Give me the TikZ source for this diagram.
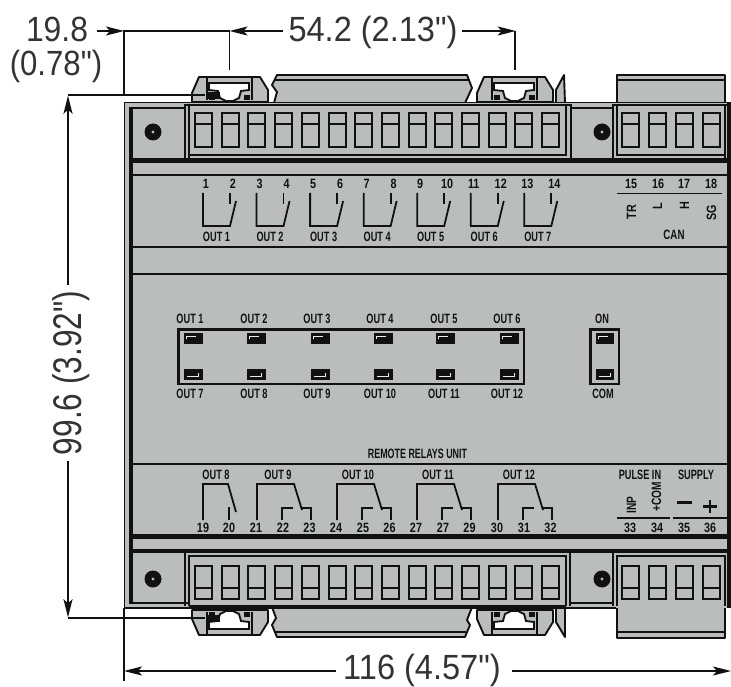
\documentclass[tikz,border=0pt]{standalone}
\usepackage{fontspec}
\setmainfont{Liberation Sans}
\newfontfamily\dimfont{Liberation Sans}
\usetikzlibrary{arrows.meta}
\definecolor{panel}{HTML}{BBBDBD}
\definecolor{ink}{HTML}{111111}
\newcommand{\nar}[2]{\scalebox{#1}[1]{#2}}
\tikzset{
  dimline/.style={draw=ink,line width=1.9pt},
  dimarrow/.style={dimline,-{Stealth[length=18pt,width=9pt,inset=4pt]}},
  dimtext/.style={anchor=base,inner sep=0pt,text=black!80,font=\dimfont\fontsize{35}{35}\selectfont},
  lbl/.style={anchor=base,inner sep=0pt,text=ink,font=\bfseries\fontsize{13.5}{14}\selectfont},
  wire/.style={draw=ink,line width=1.8pt},
  heavy/.style={fill=ink,draw=none},
  cellbox/.style={draw=ink,line width=2pt,fill=panel},
  grey/.style={fill=panel,draw=ink,line width=1.9pt,line join=round},
}
% terminal cell
\newcommand{\tcell}[4]{\draw[cellbox] (#1,#2) rectangle (#1+17,#3); \draw[draw=ink,line width=1.7pt] (#1,#4) -- (#1+17,#4);}
% DIN clip
\newcommand{\dinclip}{%
  \path[grey] (0,25) -- (0,16) -- (7,0) -- (68,0) -- (76,13) -- (76,25) -- cycle;
  \path[draw=ink,line width=2pt] (15,1) -- (15,23);
  \path[draw=ink,line width=2pt] (60,1) -- (60,23);
  \path[fill=white,draw=ink,line width=1.8pt] (17,6) -- (57,6) -- (57,13) -- (49,14) -- (47,21) -- (41,24) -- (34,24) -- (28,21) -- (26,14) -- (17,13) -- cycle;
  \path[heavy] (17,18) rectangle (23,23);
  \path[heavy] (52,18) rectangle (58,23);
}
\begin{document}
\begin{tikzpicture}[x=1pt,y=-1pt]
\useasboundingbox (0,0) rectangle (731,687);
\clip (0,0) rectangle (731,687);
\fill[white] (0,0) rectangle (731,687);

% --- top rail pieces behind the body
\path[grey] (277,75) -- (467,75) -- (472,88) -- (465,103) -- (274,103) -- (277,92) -- (272,85) -- cycle;
\draw[ink,line width=1.3pt] (275,80) -- (469,80);
\path[grey] (617,75) rectangle (725,103);
\draw[ink,line width=1.3pt] (617,80) -- (725,80);

% --- bottom rail pieces behind the body
\path[grey] (272,607) -- (472,607) -- (467,620) -- (470,625) -- (465,637) -- (277,637) -- (272,625) -- (276,618) -- cycle;
\draw[ink,line width=1.3pt] (275,632) -- (466,632);
\path[grey] (617,607) rectangle (725,638);
\draw[ink,line width=1.3pt] (617,632) -- (725,632);

% --- fins and clips
\begin{scope}[shift={(192,77)}]\dinclip\end{scope}
\begin{scope}[shift={(477,77)}]\dinclip\end{scope}
\path[grey] (556,90) -- (564,75) -- (565,103) -- (556,103) -- cycle;
\begin{scope}[shift={(192,635)},yscale=-1]\dinclip\end{scope}
\begin{scope}[shift={(477,635)},yscale=-1]\dinclip\end{scope}
\path[grey] (556,622) -- (565,637) -- (565,607) -- (556,607) -- cycle;

% --- body
\fill[panel] (124,102) rectangle (731,608);
\draw[ink,line width=1.4pt] (124.5,102) -- (124.5,608) -- (616,608);
\draw[ink,line width=1.6pt] (124,102.5) -- (731,102.5);
% left and right heavy borders
\fill[ink] (129,107) rectangle (133,604);
\fill[ink] (727,102) rectangle (731,608);
% top band
\draw[ink,line width=2pt] (129,108) -- (185,108);
\draw[ink,line width=2pt] (571,108) -- (612,108);
% bands
\fill[ink] (129,158) rectangle (731,163);
\fill[ink] (133,174) rectangle (731,176.5);
\fill[ink] (133,246) rectangle (731,248.5);
\fill[ink] (133,272.5) rectangle (731,274.5);
\fill[ink] (133,462.5) rectangle (731,464.5);
\fill[ink] (129,533.5) rectangle (731,538.5);
\fill[ink] (129,549) rectangle (731,552.5);
\draw[ink,line width=2pt] (129,603) -- (190,603);
\draw[ink,line width=2pt] (570,603) -- (612,603);

% --- terminal blocks, top
\draw[ink,line width=1.8pt] (185,158) -- (185,105) -- (571,105) -- (571,158);
\draw[ink,line width=1.5pt] (189,158) -- (189,105);
\draw[ink,line width=1.5pt] (189,155) -- (567,155);
\draw[ink,line width=1.5pt] (566,105) -- (566,155);
\draw[ink,line width=1.8pt] (613,158) -- (613,105) -- (728,105);
\draw[ink,line width=1.5pt] (617,105) -- (617,155) -- (725,155);
\draw[ink,line width=1.5pt] (725,105) -- (725,158);
\foreach \i in {0,...,13}{\pgfmathsetmacro{\xx}{195+26.7*\i}\tcell{\xx}{113}{147}{124}}
\foreach \xx in {622,649,676,703}{\tcell{\xx}{113}{147}{124}}

% --- terminal blocks, bottom
\draw[ink,line width=1.8pt] (185,553) -- (185,606);
\draw[ink,line width=1.5pt] (189,606) -- (189,556) -- (566,556) -- (566,606);
\draw[ink,line width=1.8pt] (570,553) -- (570,606);
\draw[ink,line width=1.5pt] (189,606) -- (566,606);
\draw[ink,line width=1.8pt] (613,553) -- (613,606);
\draw[ink,line width=1.5pt] (617,606) -- (617,556) -- (725,556) -- (725,606);
\foreach \i in {0,...,13}{\pgfmathsetmacro{\xx}{195+26.7*\i}\tcell{\xx}{566}{599}{588}}
\foreach \xx in {622,649,676,703}{\tcell{\xx}{566}{599}{588}}

% --- screws
\foreach \sx/\sy in {153/132,602/132,153/579,602/579}{
  \fill[ink] (\sx,\sy) circle (8.5pt);
  \fill[panel] (\sx,\sy) circle (1.6pt);
}

% --- top relays
\foreach \i/\a/\b/\o [count=\c from 0] in {1/1/2/OUT 1,2/3/4/OUT 2,3/5/6/OUT 3,4/7/8/OUT 4,5/9/10/OUT 5,6/11/12/OUT 6,7/13/14/OUT 7}{
  \pgfmathsetmacro{\bx}{203+53.55*\c}
  \draw[wire,line join=miter] (\bx,193) -- (\bx,226) -- (\bx+27,226) -- (\bx+33,201);
  \draw[wire] (\bx+27,193) -- (\bx+27,204);
  \node[lbl] (ta\i) at (\bx+3,189) {\nar{.8}{\a}};
  \node[lbl] (tb\i) at (\bx+30,189) {\nar{.8}{\b}};
  \node[lbl] (to\i) at (\bx+13.5,241) {\nar{.68}{\o}};
}

% --- CAN
\node[lbl] (n15) at (631,189) {\nar{.8}{15}};
\node[lbl] (n16) at (658,189) {\nar{.8}{16}};
\node[lbl] (n17) at (684,189) {\nar{.8}{17}};
\node[lbl] (n18) at (711,189) {\nar{.8}{18}};
\coordinate (canl) at (617,193.5);
\coordinate (canr) at (722,193.5);
\draw[wire] (canl) -- (canr);
\node[lbl,rotate=90] (tr) at (636,212) {\nar{.8}{TR}};
\node[lbl,rotate=90] (ll) at (662,206) {\nar{.8}{L}};
\node[lbl,rotate=90] (hh) at (689,206) {\nar{.8}{H}};
\node[lbl,rotate=90] (sg) at (716,213) {\nar{.8}{SG}};
\node[lbl] (can) at (674,240) {\nar{.72}{CAN}};

% --- LEDs
\foreach \i/\lx/\wx/\ta/\tb in {1/190/193/OUT 1/OUT 7,2/254/256/OUT 2/OUT 8,3/317/320/OUT 3/OUT 9,4/380/383/OUT 4/OUT 10,5/444/445/OUT 5/OUT 11,6/507/509/OUT 6/OUT 12}{
  \node[lbl] (la\i) at (\lx,323) {\nar{.68}{\ta}};
  \node[lbl] (lb\i) at (\lx,398) {\nar{.68}{\tb}};
  \fill[ink] (\wx-9.5,333) rectangle (\wx+9.5,343.5);
  \fill[ink] (\wx-9.5,369) rectangle (\wx+9.5,380);
  \draw[white!70!panel,line width=.9pt] (\wx-7,339) -- (\wx-7,336) -- (\wx+3,336);
  \draw[white!70!panel,line width=.9pt] (\wx-6,376.5) -- (\wx+5,376.5) -- (\wx+5,373);
}
\draw[ink,line width=2.4pt] (178.5,329.5) rectangle (524,384);
\draw[ink,line width=2.4pt] (590.5,329.5) rectangle (619,384);
\fill[ink] (595.5,333) rectangle (614,343.5);
\fill[ink] (595.5,369) rectangle (614,380);
\draw[white!70!panel,line width=.9pt] (598,339) -- (598,336) -- (608,336);
\draw[white!70!panel,line width=.9pt] (599,376.5) -- (610,376.5) -- (610,373);
\node[lbl] (on) at (602,323) {\nar{.68}{ON}};
\node[lbl] (com) at (603,398) {\nar{.68}{COM}};
\node[lbl] (unit) at (417.5,458) {\nar{.66}{REMOTE RELAYS UNIT}};

% --- lower relays
\draw[wire,line join=miter] (203,520) -- (203,484) -- (228,484) -- (236,512);
\draw[wire] (229,507) -- (229,520);
\node[lbl] (o8) at (216,479) {\nar{.68}{OUT 8}};
\node[lbl] (n19) at (203,532) {\nar{.8}{19}};
\node[lbl] (n20) at (229,532) {\nar{.8}{20}};
\foreach \bx/\ol/\tx/\a/\b/\cc in {257/OUT 9/278/21/22/23,337/OUT 10/358/24/25/26,417/OUT 11/438/27/27/29,498/OUT 12/519/30/31/32}{
  \draw[wire,line join=miter] (\bx,520) -- (\bx,484) -- (\bx+37,484) -- (\bx+45,510);
  \draw[wire,line join=miter] (\bx+45,508) -- (\bx+54,508) -- (\bx+54,520);
  \draw[wire,line join=miter] (\bx+25,520) -- (\bx+25,508) -- (\bx+36,508);
  \node[lbl] at (\tx,479) {\nar{.68}{\ol}};
  \node[lbl] at (\bx-1,532) {\nar{.8}{\a}};
  \node[lbl] at (\bx+26,532) {\nar{.8}{\b}};
  \node[lbl] at (\bx+52.5,532) {\nar{.8}{\cc}};
}

% --- pulse / supply
\node[lbl] (pulse) at (640,479) {\nar{.68}{PULSE IN}};
\node[lbl] (supply) at (696,479) {\nar{.68}{SUPPLY}};
\coordinate (pl) at (617,518);
\coordinate (pr) at (670,518);
\coordinate (sl) at (673,518);
\coordinate (sr) at (727,518);
\draw[wire] (pl) -- (pr);
\draw[wire] (sl) -- (sr);
\node[lbl] (n33) at (630,532) {\nar{.8}{33}};
\node[lbl] (n34) at (657,532) {\nar{.8}{34}};
\node[lbl] (n35) at (684,532) {\nar{.8}{35}};
\node[lbl] (n36) at (710,532) {\nar{.8}{36}};
\node[lbl,rotate=90] (inp) at (636,505) {\nar{.75}{INP}};
\node[lbl,rotate=90] (pcom) at (661,497) {\nar{.75}{+COM}};
\draw[ink,line width=2.2pt] (677,502.5) -- (692,502.5);
\draw[ink,line width=2.2pt] (703,506.5) -- (717,506.5);
\draw[ink,line width=2.2pt] (710,500) -- (710,513);

% --- dimensions
\coordinate (c124t) at (124,31);
\coordinate (c229t) at (229.5,31);
\coordinate (c515t) at (515,31);
\coordinate (a19) at (97,31);
\coordinate (a54) at (283,31);
\coordinate (a54r) at (462,31);
\coordinate (d124) at (124,96);
\coordinate (d229) at (229.5,70);
\coordinate (d515) at (515,70);
\draw[dimline] (d124) -- (c124t) -- (c229t) -- (d229);
\draw[dimarrow] (a19) -- (c124t);
\draw[dimarrow] (a54) -- (c229t);
\draw[dimline] (d515) -- (c515t);
\draw[dimarrow] (a54r) -- ([xshift=.7pt]c515t);
\node[dimtext] (t19) at (57,42) {\nar{.91}{19.8}};
\node[dimtext] (t78) at (56,76) {\nar{.89}{(0.78")}};
\node[dimtext] (t54) at (373,42) {\nar{.93}{54.2 (2.13")}};

\coordinate (vt) at (68,95);
\coordinate (vb) at (68,618);
\coordinate (vth) at (205,95);
\coordinate (vbh) at (205,618);
\coordinate (vm1) at (68,285);
\coordinate (vm2) at (68,461);
\draw[dimline] (vth) -- (vt);
\draw[dimline] (vbh) -- (vb);
\fill[ink] (207,92) rectangle (220,99);
\fill[ink] (207,615) rectangle (220,622);
\draw[dimarrow] (vm1) -- ([yshift=-.7pt]vt);
\draw[dimarrow] (vm2) -- ([yshift=.7pt]vb);
\node[dimtext,rotate=90,font=\dimfont\fontsize{40}{40}\selectfont] (t99) at (81,373) {\nar{.79}{99.6 (3.92")}};

\coordinate (hl) at (124,671);
\coordinate (hr) at (731,671);
\coordinate (hm1) at (336,671);
\coordinate (hm2) at (512,671);
\coordinate (hlt) at (124,608);
\coordinate (hlb) at (124,681);
\draw[dimline] (hlt) -- (hlb);
\draw[dimarrow] (hm1) -- (hl);
\draw[dimarrow] (hm2) -- (hr);
\node[dimtext] (t116) at (422,679) {\nar{.93}{116 (4.57")}};
\end{tikzpicture}
\end{document}
